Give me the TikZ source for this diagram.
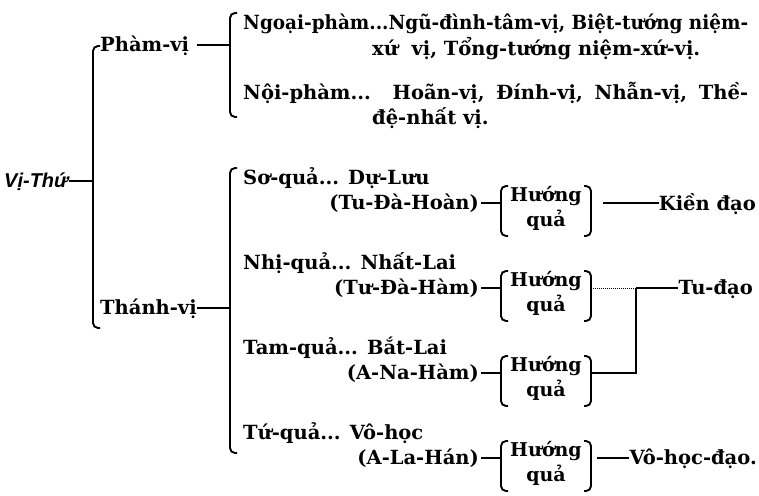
\documentclass[tikz,border=0pt]{standalone}
\usepackage{fontspec}
\usepackage{graphicx}
\usetikzlibrary{calc}
\setmainfont{DejaVu Serif}
\newfontfamily\vsans{Liberation Sans}
\newsavebox\jbox
\newcommand\jline[2]{\sbox\jbox{#2}\ifdim\wd\jbox>#1\relax\resizebox{#1}{\height}{\usebox\jbox}\else\makebox[#1][s]{#2}\fi}
\begin{document}
\begin{tikzpicture}[x=1pt,y=-1pt,
  txt/.style={font=\fontsize{19.5}{22}\selectfont\bfseries, inner sep=0pt, anchor=mid west},
  txtc/.style={font=\fontsize{19}{22}\selectfont\bfseries, inner sep=0pt, anchor=mid},
  txte/.style={font=\fontsize{19.5}{22}\selectfont\bfseries, inner sep=0pt, anchor=mid east},
  ln/.style={line width=1.8pt},
  thin/.style={line width=1pt},
  lbr/.style={line width=1.9pt, rounded corners=5pt},
]
\useasboundingbox (0,0) rectangle (759,495);

% level 0
\node[inner sep=0pt, anchor=mid west, font=\vsans\bfseries\itshape\fontsize{20}{22}\selectfont] (vithu) at (4,185) {Vị-Thứ};
\coordinate (b0t) at (93,46);
\coordinate (b0m) at (93,181);
\coordinate (b0b) at (93,328);
\draw[lbr] ($(b0t)+(7,0)$) -- (b0t) -- (b0b) -- ($(b0b)+(7,0)$);
\draw[ln] (vithu.east |- b0m) -- (b0m);

% Pham-vi
\node[txt] (phamvi) at (100,49) {Phàm-vị};
\coordinate (b1m) at (230,45);
\coordinate (b1t) at (230,13);
\coordinate (b1b) at (230,117);
\draw[lbr] ($(b1t)+(7,0)$) -- (b1t) -- (b1b) -- ($(b1b)+(7,0)$);
\draw[ln] ($(phamvi.east |- b1m)+(8,0)$) -- (b1m);

\node[txt] (ngoai1) at (243,27) {\jline{505pt}{Ngoại-phàm...Ngũ-đình-tâm-vị, Biệt-tướng niệm-}};
\node[txt] (ngoai2) at (372,53) {xứ\ \ vị, Tổng-tướng niệm-xứ-vị.};
\node[txt] (noi1) at (243,97) {\jline{505pt}{Nội-phàm...\ \ Hoãn-vị, Đính-vị, Nhẫn-vị, Thề-}};
\node[txt] (noi2) at (372,122) {đệ-nhất vị.};

% Thanh-vi
\node[txt] (thanhvi) at (100,312) {Thánh-vị};
\coordinate (b2m) at (230,308);
\coordinate (b2t) at (230,168);
\coordinate (b2b) at (230,453);
\draw[lbr] ($(b2t)+(7,0)$) -- (b2t) -- (b2b) -- ($(b2b)+(7,0)$);
\draw[ln] (thanhvi.east |- b2m) -- (b2m);

% rows
\foreach \r/\ya/\txa/\txb in {1/182/{Sơ-quả... Dự-Lưu}/{(Tu-Đà-Hoàn)},
                              2/267/{Nhị-quả... Nhất-Lai}/{(Tư-Đà-Hàm)},
                              3/352/{Tam-quả... Bắt-Lai}/{(A-Na-Hàm)},
                              4/437/{Tứ-quả... Vô-học}/{(A-La-Hán)}} {
  \node[txt] (qa\r) at (243,\ya) {\txa};
  \node[txte] (qb\r) at (479,\ya+25) {\txb};
  \coordinate (hl\r) at (501,\ya+21);
  \coordinate (hlt\r) at (501,\ya+4);
  \coordinate (hlb\r) at (501,\ya+54);
  \coordinate (hrt\r) at (591,\ya+4);
  \coordinate (hrb\r) at (591,\ya+54);
  \coordinate (hr\r) at (591,\ya+21);
  \draw[lbr] ($(hlt\r)+(7,0)$) -- (hlt\r) -- (hlb\r) -- ($(hlb\r)+(7,0)$);
  \draw[lbr] ($(hrt\r)+(-7,0)$) -- (hrt\r) -- (hrb\r) -- ($(hrb\r)+(-7,0)$);
  \node[txtc] (hu\r) at (546,\ya+17) {Hướng};
  \node[txtc] (qu\r) at (546,\ya+42) {quả};
  \draw[ln] ($(qb\r.east |- hl\r)+(2,0)$) -- (hl\r);
}

% right side
\node[txte] (kien) at (756,208) {Kiền đạo};
\draw[ln] ($(hr1)+(12,0)$) -- (kien.west |- hr1);

\node[txte] (tudao) at (753,292) {Tu-đạo};
\coordinate (j2) at (636,288);
\coordinate (j3) at (636,373);
\draw[thin, densely dotted] (hr2) -- (j2);
\draw[ln] (j2) -- (tudao.west |- j2);
\draw[ln] (hr3) -- (j3) -- (j2);

\node[txte] (vohoc) at (757,462) {Vô-học-đạo.};
\draw[ln] ($(hr4)+(6,0)$) -- (vohoc.west |- hr4);
\end{tikzpicture}
\end{document}
